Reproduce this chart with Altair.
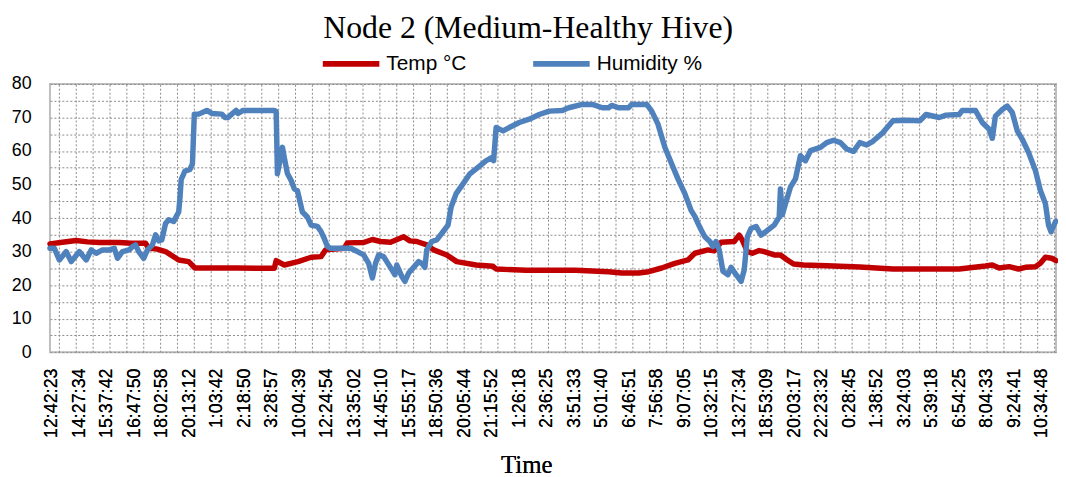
import altair as alt
import pandas as pd

TITLE = "Node 2 (Medium-Healthy Hive)"
SERIES = ["Temp °C", "Humidity %"]
COLORS = ["#C00000", "#4F81BD"]

# category axis: logger readings, a label every 44 readings, a gridline every 27
N_READINGS = 1610
LABEL_FIRST, LABEL_EVERY = 3, 44
GRID_FIRST, GRID_EVERY = 14, 27
TIME_LABELS = [
    "12:42:23", "14:27:34", "15:37:42", "16:47:50", "18:02:58", "20:13:12",
    "1:03:42", "2:18:50", "3:28:57", "10:04:39", "12:24:54", "13:35:02",
    "14:45:10", "15:55:17", "18:50:36", "20:05:44", "21:15:52", "1:26:18",
    "2:36:25", "3:51:33", "5:01:40", "6:46:51", "7:56:58", "9:07:05",
    "10:32:15", "13:27:34", "18:53:09", "20:03:17", "22:23:32", "0:28:45",
    "1:38:52", "3:24:03", "5:39:18", "6:54:25", "8:04:33", "9:24:41",
    "10:34:48",
]

TEMP_IDX = [0, 20, 42, 60, 79, 111, 130, 153, 158, 170, 185, 206, 222, 232, 300,
            359, 362, 375, 397, 418, 434, 441, 471, 476, 502, 516, 529, 545, 566,
            576, 587, 603, 614, 635, 651, 682, 709, 714, 762, 841, 894, 915, 942,
            958, 979, 1000, 1021, 1032, 1053, 1063, 1074, 1095, 1103, 1108, 1116,
            1124, 1135, 1143, 1159, 1169, 1180, 1190, 1206, 1243, 1296, 1349, 1455,
            1497, 1508, 1519, 1535, 1550, 1561, 1577, 1585, 1593, 1603, 1610]
TEMP_VAL = [32.3, 32.8, 33.3, 32.9, 32.7, 32.7, 32.5, 32.5, 31.0, 30.8, 30.0, 27.5,
            27.0, 25.1, 25.1, 25.0, 27.3, 26.0, 27.0, 28.3, 28.5, 30.5, 31.0, 32.6,
            32.7, 33.6, 33.0, 32.8, 34.4, 33.2, 33.0, 32.0, 30.5, 29.0, 27.0, 26.0,
            25.6, 24.8, 24.4, 24.4, 24.0, 23.6, 23.6, 24.0, 25.1, 26.5, 27.5, 29.5,
            30.5, 30.2, 32.8, 33.0, 34.9, 33.4, 30.0, 29.5, 30.3, 30.0, 29.0, 29.0,
            27.5, 26.3, 26.0, 25.8, 25.4, 24.8, 24.8, 25.7, 26.0, 25.1, 25.5, 24.8,
            25.3, 25.5, 26.5, 28.3, 28.0, 27.3]

HUM_IDX = [0, 7, 15, 26, 34, 47, 58, 66, 74, 84, 95, 103, 108, 116, 127, 132, 137,
           142, 150, 156, 164, 169, 174, 179, 185, 190, 198, 206, 208, 210, 216,
           224, 228, 231, 238, 251, 259, 275, 280, 285, 291, 298, 301, 309, 322,
           359, 362, 364, 369, 372, 375, 380, 386, 391, 396, 399, 404, 412, 418,
           428, 434, 439, 444, 449, 481, 492, 502, 510, 516, 521, 526, 534, 539,
           547, 552, 555, 563, 568, 574, 582, 590, 595, 600, 603, 611, 619, 629,
           637, 642, 650, 661, 672, 688, 698, 706, 710, 714, 725, 735, 751, 767,
           783, 799, 820, 830, 852, 868, 884, 894, 899, 910, 926, 931, 955, 963,
           973, 984, 995, 1005, 1016, 1026, 1032, 1037, 1042, 1048, 1056, 1061,
           1066, 1071, 1077, 1085, 1090, 1098, 1106, 1111, 1116, 1122, 1130, 1138,
           1146, 1159, 1167, 1169, 1172, 1177, 1185, 1193, 1201, 1209, 1217, 1233,
           1243, 1254, 1265, 1275, 1286, 1296, 1307, 1317, 1333, 1349, 1370, 1392,
           1402, 1423, 1434, 1455, 1460, 1481, 1492, 1503, 1508, 1513, 1524, 1532,
           1540, 1548, 1556, 1566, 1577, 1585, 1593, 1598, 1602, 1609, 1610]
HUM_VAL = [31.0, 31.0, 27.5, 30.0, 27.0, 30.0, 27.5, 30.5, 29.5, 30.5, 30.5, 31.0,
           28.0, 30.0, 30.5, 31.5, 32.0, 30.0, 28.0, 30.5, 32.0, 35.0, 33.2, 33.5,
           38.4, 39.5, 39.0, 41.8, 46.0, 51.5, 54.0, 54.5, 56.2, 71.0, 71.0, 72.1,
           71.2, 71.0, 70.0, 70.0, 71.0, 72.1, 71.2, 72.1, 72.1, 72.1, 71.8, 53.2,
           58.1, 61.1, 58.0, 53.3, 51.2, 48.7, 48.2, 45.8, 41.8, 40.3, 37.9, 37.5,
           35.9, 33.9, 31.5, 31.0, 31.0, 30.0, 29.0, 26.5, 22.1, 26.5, 29.0, 28.5,
           27.0, 24.6, 23.1, 26.0, 22.6, 21.1, 23.6, 25.3, 27.0, 26.5, 25.3, 30.5,
           33.0, 33.5, 35.9, 37.9, 43.3, 47.3, 50.2, 53.2, 55.6, 57.1, 58.0, 57.1,
           67.0, 66.0, 67.0, 68.5, 69.5, 70.9, 71.9, 72.1, 72.9, 73.9, 73.9, 72.9,
           72.9, 73.6, 72.9, 72.9, 73.9, 73.9, 71.9, 68.0, 61.1, 56.1, 51.7, 47.3,
           42.3, 40.5, 38.4, 36.5, 34.4, 33.0, 31.5, 33.0, 30.5, 24.1, 23.1, 25.3,
           23.1, 21.1, 24.5, 34.4, 36.9, 37.5, 34.9, 36.0, 37.9, 40.3, 48.7, 41.0,
           44.3, 49.2, 51.7, 58.6, 57.1, 60.1, 61.1, 62.5, 63.2, 62.5, 60.6, 59.9,
           62.5, 61.8, 62.9, 65.5, 69.0, 69.2, 69.0, 70.9, 70.0, 70.7, 70.9, 72.1,
           72.1, 68.5, 66.5, 63.8, 70.4, 72.4, 73.4, 71.5, 66.0, 63.5, 59.6, 54.2,
           48.2, 44.3, 37.9, 35.9, 38.9, 39.0]

temp_df = pd.DataFrame({"reading": TEMP_IDX, "value": TEMP_VAL, "series": SERIES[0]})
hum_df = pd.DataFrame({"reading": HUM_IDX, "value": HUM_VAL, "series": SERIES[1]})

label_values = [LABEL_FIRST + LABEL_EVERY * j for j in range(len(TIME_LABELS))]
grid_values = [GRID_FIRST + GRID_EVERY * k
               for k in range((N_READINGS - GRID_FIRST) // GRID_EVERY + 1)]
labels_js = "[" + ",".join("'" + s + "'" for s in TIME_LABELS) + "]"
x_label_expr = f"{labels_js}[round((datum.value - {LABEL_FIRST}) / {LABEL_EVERY})]"

SANS = "Liberation Sans"
SERIF = "Liberation Serif"
GRID_COLOR = "#8a8a8a"
GRID_DASH = [2, 2]

x_scale = alt.Scale(domain=[0, N_READINGS], nice=False, zero=False)
y_enc = alt.Y(
    "value:Q",
    scale=alt.Scale(domain=[0, 80], nice=False),
    axis=alt.Axis(
        values=list(range(0, 81, 5)),
        labelExpr="datum.value % 10 === 0 ? datum.label : ''",
        grid=True, gridColor=GRID_COLOR, gridDash=GRID_DASH, gridWidth=1,
        ticks=False, domain=False, labelFont=SANS, labelFontSize=18,
        labelColor="#000000", labelPadding=19, title=None,
    ),
)
color_enc = alt.Color(
    "series:N",
    scale=alt.Scale(domain=SERIES, range=COLORS),
    legend=alt.Legend(
        title=None, orient="none", direction="horizontal",
        legendX=272, legendY=-52, padding=0,
        symbolType="stroke", symbolSize=3249, symbolStrokeWidth=6,
        labelFont=SANS, labelFontSize=21, labelColor="#000000",
        labelOffset=4, columnPadding=55,
    ),
)

x_main = alt.X(
    "reading:Q", scale=x_scale,
    axis=alt.Axis(
        values=label_values, labelExpr=x_label_expr, labelAngle=270,
        grid=False, ticks=False, domain=False, labelOverlap=False,
        labelFlush=False, labelBound=False,
        labelFont=SANS, labelFontSize=18, labelColor="#000000", labelPadding=16,
        title="Time", titleFont=SERIF, titleFontSize=25, titleFontWeight="normal",
        titleColor="#000000", titleX=480, titleY=121, titleBaseline="alphabetic",
        titleAlign="center",
    ),
)
x_grid = alt.X(
    "reading:Q", scale=x_scale,
    axis=alt.Axis(
        values=grid_values, orient="top", labels=False, ticks=False, domain=False,
        grid=True, gridColor=GRID_COLOR, gridDash=GRID_DASH, gridWidth=1, title=None,
    ),
)

line_style = dict(strokeWidth=5.5, strokeCap="round", strokeJoin="round")

grid_layer = alt.Chart(temp_df).mark_line(opacity=0).encode(x=x_grid, y=y_enc)
temp_layer = alt.Chart(temp_df).mark_line(**line_style).encode(x=x_main, y=y_enc, color=color_enc)
hum_layer = alt.Chart(hum_df).mark_line(**line_style).encode(x=x_main, y=y_enc, color=color_enc)

chart = (
    alt.layer(grid_layer, temp_layer, hum_layer)
    .resolve_axis(x="independent")
    .properties(
        width=1014, height=270.3,
        autosize=alt.AutoSizeParams(type="none"),
        padding={"left": 42.3, "top": 74.7, "right": 2, "bottom": 126},
        title=alt.TitleParams(
            TITLE, font=SERIF, fontSize=32, fontWeight="normal", color="#000000",
            anchor="middle", dx=-25, offset=10, dy=23,
        ),
    )
    .configure_view(stroke="#BFBFBF", strokeWidth=2)
)

chart.save("out.html", embed_options={"renderer": "svg", "actions": False})
